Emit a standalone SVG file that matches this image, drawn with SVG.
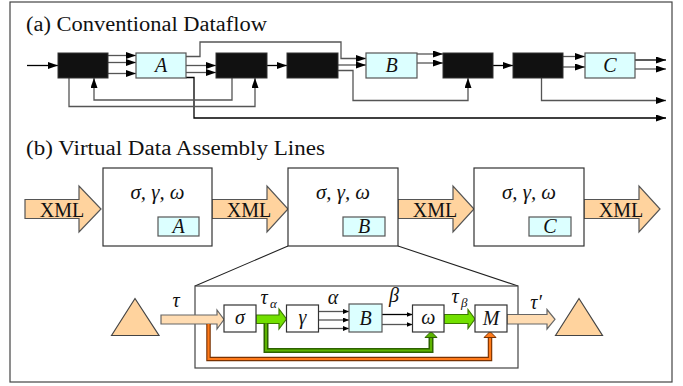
<svg xmlns="http://www.w3.org/2000/svg" width="683" height="386" viewBox="0 0 683 386">
  <defs>
    <marker id="tip" markerUnits="userSpaceOnUse" markerWidth="11" markerHeight="8" refX="10" refY="3.5" orient="auto">
      <path d="M0,0 L10,3.5 L0,7 z" fill="#000"/>
    </marker>
    <marker id="tipS" markerUnits="userSpaceOnUse" markerWidth="7" markerHeight="6" refX="6" refY="2.5" orient="auto">
      <path d="M0,0 L6,2.5 L0,5 z" fill="#000"/>
    </marker>
  </defs>
  <style>
    .frame { fill: #fff; stroke: #444; stroke-width: 1.2; }
    .blk { fill: #111; stroke: #333; stroke-width: 1; }
    .cy { fill: #dcffff; stroke: #555; stroke-width: 1.2; }
    .box { fill: #fff; stroke: #333; stroke-width: 1.2; }
    .wire { fill: none; stroke: #555; stroke-width: 1.3; }
    .wireK { fill: none; stroke: #000; stroke-width: 1.3; }
    .fat { fill: #ffd39e; stroke: #555; stroke-width: 1.2; }
    .fatL { fill: #ffdcb2; stroke: #666; stroke-width: 1.2; }
    .grn { fill: #72e000; stroke: #3c7a00; stroke-width: 1.2; }
    .tri { fill: #ffd39e; stroke: #444; stroke-width: 1.2; }
    .zoom { fill: none; stroke: #222; stroke-width: 1.1; }
    .title { font-family: "Liberation Serif", "DejaVu Serif", serif; font-size: 20px; fill: #111; }
    .rm { font-family: "Liberation Serif", "DejaVu Serif", serif; font-size: 20px; fill: #111; text-anchor: middle; }
    .it { font-family: "Liberation Serif", "DejaVu Serif", serif; font-style: italic; font-size: 20px; fill: #111; text-anchor: middle; }
    .sub { font-family: "Liberation Serif", "DejaVu Serif", serif; font-style: italic; font-size: 13px; fill: #111; }
    .gOut { fill: none; stroke: #2d6200; stroke-width: 5; }
    .gIn { fill: none; stroke: #5cb400; stroke-width: 2; }
    .oOut { fill: none; stroke: #7a3200; stroke-width: 4.5; }
    .oIn { fill: none; stroke: #ff7a1a; stroke-width: 2.2; }
  </style>

  <rect class="frame" x="10" y="2" width="662" height="380"/>

  <!-- (a) conventional dataflow -->
  <text class="title" x="26" y="31" textLength="241" lengthAdjust="spacingAndGlyphs">(a) Conventional Dataflow</text>

  <g id="a-connectors">
    <path class="wireK" d="M27,65.5 H58" marker-end="url(#tip)"/>
    <path class="wire" d="M108,55.5 H136" marker-end="url(#tip)"/>
    <path class="wire" d="M108,62.5 H136" marker-end="url(#tip)"/>
    <path class="wire" d="M108,73.5 H136" marker-end="url(#tip)"/>
    <path class="wire" d="M186,56.5 H200 V42 H341 V58.5 H366" marker-end="url(#tip)"/>
    <path class="wire" d="M186,65.5 H216" marker-end="url(#tip)"/>
    <path class="wire" d="M186,72.5 H216" marker-end="url(#tip)"/>
    <path class="wireK" d="M186,77.5 H194 V118 H666" marker-end="url(#tip)"/>
    <path class="wire" d="M69,78 V106.5 H255 V78" marker-end="url(#tip)"/>
    <path class="wire" d="M232,78 V100 H94 V78" marker-end="url(#tip)"/>
    <path class="wireK" d="M267,65.5 H287" marker-end="url(#tip)"/>
    <path class="wire" d="M338,65 H366" marker-end="url(#tip)"/>
    <path class="wire" d="M338,70.5 H353 V100.5 H468 V78" marker-end="url(#tip)"/>
    <path class="wire" d="M417,54 H443" marker-end="url(#tip)"/>
    <path class="wire" d="M417,63 H443" marker-end="url(#tip)"/>
    <path class="wireK" d="M493,65.5 H513" marker-end="url(#tip)"/>
    <path class="wire" d="M563,56.5 H585" marker-end="url(#tip)"/>
    <path class="wire" d="M563,67 H585" marker-end="url(#tip)"/>
    <path class="wireK" d="M635,60 H666" marker-end="url(#tip)"/>
    <path class="wire" d="M635,69 H666" marker-end="url(#tip)"/>
    <path class="wire" d="M541.5,78 V100.5 H666" marker-end="url(#tip)"/>
  </g>

  <g id="a-op1"><rect class="blk" x="58" y="53" width="50" height="25"/></g>
  <g id="a-A"><rect class="cy" x="136" y="53" width="50" height="25"/><text class="it" x="161" y="72">A</text></g>
  <g id="a-op2"><rect class="blk" x="216" y="53" width="51" height="25"/></g>
  <g id="a-op3"><rect class="blk" x="287" y="53" width="51" height="25"/></g>
  <g id="a-B"><rect class="cy" x="366" y="53" width="51" height="25"/><text class="it" x="391.5" y="72">B</text></g>
  <g id="a-op4"><rect class="blk" x="443" y="53" width="50" height="25"/></g>
  <g id="a-op5"><rect class="blk" x="513" y="53" width="50" height="25"/></g>
  <g id="a-C"><rect class="cy" x="585" y="53" width="50" height="25"/><text class="it" x="610" y="72">C</text></g>

  <!-- (b) virtual data assembly lines -->
  <text class="title" x="26" y="155" textLength="299" lengthAdjust="spacingAndGlyphs">(b) Virtual Data Assembly Lines</text>

  <g id="b-connectors">
    <polygon class="fat" points="25,199.5 79,199.5 79,186 101,209 79,232 79,218.5 25,218.5"/>
    <text class="rm" x="62" y="217">XML</text>
    <polygon class="fat" points="212,199.5 267,199.5 267,186 288,209 267,232 267,218.5 212,218.5"/>
    <text class="rm" x="249" y="217">XML</text>
    <polygon class="fat" points="398,199.5 453,199.5 453,186 474,209 453,232 453,218.5 398,218.5"/>
    <text class="rm" x="435" y="217">XML</text>
    <polygon class="fat" points="584,199.5 639,199.5 639,186 660,209 639,232 639,218.5 584,218.5"/>
    <text class="rm" x="621" y="217">XML</text>
  </g>

  <g id="b-stageA">
    <rect class="box" x="103" y="168" width="109" height="78"/>
    <text class="it" x="157.5" y="199" textLength="54" lengthAdjust="spacingAndGlyphs">σ, γ, ω</text>
    <rect class="cy" x="158" y="217" width="41" height="19"/>
    <text class="it" x="178.5" y="233">A</text>
  </g>
  <g id="b-stageB">
    <rect class="box" x="288" y="168" width="110" height="78"/>
    <text class="it" x="343" y="199" textLength="54" lengthAdjust="spacingAndGlyphs">σ, γ, ω</text>
    <rect class="cy" x="343" y="217" width="42" height="19"/>
    <text class="it" x="364" y="233">B</text>
  </g>
  <g id="b-stageC">
    <rect class="box" x="474" y="168" width="110" height="78"/>
    <text class="it" x="529" y="199" textLength="54" lengthAdjust="spacingAndGlyphs">σ, γ, ω</text>
    <rect class="cy" x="529" y="217" width="42" height="19"/>
    <text class="it" x="550" y="233">C</text>
  </g>

  <!-- detail of stage B -->
  <g id="detail-frame">
    <path class="zoom" d="M288,246 L195,286 M398,246 L518,286"/>
    <rect class="box" x="195" y="286" width="323" height="82" style="stroke:#444"/>
  </g>

  <g id="detail-connectors">
    <polygon class="fatL" points="161,315 217,315 217,310 224,319.5 217,329 217,324 161,324"/>
    <text class="it" x="176" y="307">τ</text>
    <polygon class="grn" points="256,315 279,315 279,309 286.5,319 279,329 279,323.5 256,323.5"/>
    <text class="it" x="264" y="304">τ</text><text class="sub" x="270" y="308">α</text>
    <path class="wire" d="M318.5,311.5 H349" marker-end="url(#tipS)"/>
    <path class="wire" d="M318.5,320 H349" marker-end="url(#tipS)"/>
    <path class="wire" d="M318.5,328.5 H349" marker-end="url(#tipS)"/>
    <text class="it" x="333" y="304">α</text>
    <path class="wireK" d="M382,314.5 H412.5" marker-end="url(#tipS)"/>
    <path class="wire" d="M382,324.5 H412.5" marker-end="url(#tipS)"/>
    <text class="it" x="394" y="302">β</text>
    <polygon class="grn" points="444,314.5 468,314.5 468,309.5 475,319 468,328.5 468,323.5 444,323.5"/>
    <text class="it" x="455" y="303">τ</text><text class="sub" x="461" y="307">β</text>
    <polygon class="fatL" points="507,314.5 547,314.5 547,309.5 555,319.3 547,329 547,324 507,324"/>
    <text class="it" x="536" y="309">τ′</text>
    <!-- feedback lines -->
    <path class="oOut" d="M208.5,324 V359 H490 V337"/>
    <path class="oIn" d="M208.5,324 V359 H490 V337"/>
    <polygon points="484,337.5 490,331.5 496,337.5" fill="#ff7a1a" stroke="#7a3200" stroke-width="1"/>
    <path class="gOut" d="M266,323.5 V350.5 H431 V337"/>
    <path class="gIn" d="M266,323.5 V350.5 H431 V337"/>
    <polygon points="425,337.5 431,331.5 437,337.5" fill="#5cb400" stroke="#2d6200" stroke-width="1"/>
  </g>

  <g id="src"><polygon class="tri" points="111.5,335.5 135,298.5 159,335.5"/></g>
  <g id="sink"><polygon class="tri" points="555.5,335.5 579,298.5 602.5,335.5"/></g>
  <g id="op-sigma"><rect class="box" x="224" y="305" width="32" height="27"/><text class="it" x="240" y="324">σ</text></g>
  <g id="op-gamma"><rect class="box" x="286.5" y="305" width="32" height="27"/><text class="it" x="302.5" y="324">γ</text></g>
  <g id="op-B"><rect class="cy" x="349" y="304" width="33" height="28"/><text class="it" x="365.5" y="325">B</text></g>
  <g id="op-omega"><rect class="box" x="412.5" y="305" width="31.5" height="27"/><text class="it" x="428.3" y="324">ω</text></g>
  <g id="op-M"><rect class="box" x="475" y="305" width="32" height="27"/><text class="it" x="491" y="325">M</text></g>
</svg>
